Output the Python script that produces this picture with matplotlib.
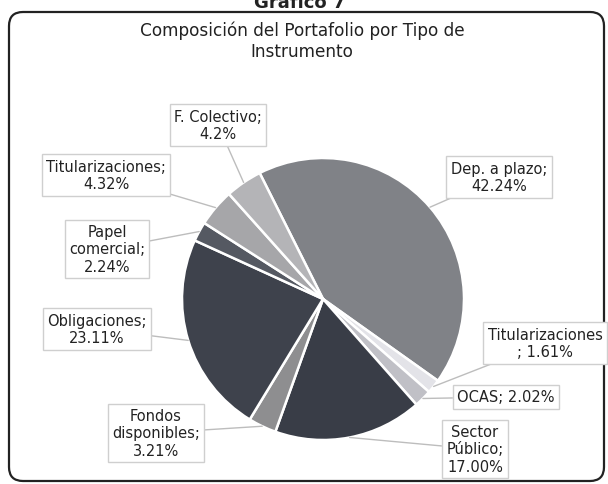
import numpy as np
import matplotlib.pyplot as plt
from matplotlib.patches import FancyBboxPatch

# datos del grafico
categorias = ['Dep. a plazo', 'Titularizaciones\n', 'OCAS', 'Sector\nPúblico',
              'Fondos\ndisponibles', 'Obligaciones', 'Papel\ncomercial',
              'Titularizaciones', 'F. Colectivo']
valores = [42.24, 1.61, 2.02, 17.00, 3.21, 23.11, 2.24, 4.32, 4.2]
etiquetas_valor = ['42.24%', '1.61%', '2.02%', '17.00%', '3.21%', '23.11%', '2.24%', '4.32%', '4.2%']
colores = ['#808287', '#e3e3e8', '#c0c0c6', '#393d47', '#8e8e90',
           '#3e424c', '#555962', '#a6a6a9', '#b4b4b7']

# posiciones de las cajas de texto (pixeles)
pos_cajas = [(499, 178), (545, 344), (506, 398), (475, 450), (156, 434),
             (97, 330), (107, 250), (106, 176), (218, 126)]

W, H = 608, 485
fig = plt.figure(figsize=(W / 100, H / 100), dpi=100)
ax = fig.add_axes([0, 0, 1, 1])

# marco redondeado
marco = FancyBboxPatch((9, 3), 595, 469, boxstyle='round,pad=0,rounding_size=14',
                       fill=False, edgecolor='#222222', linewidth=1.6)
ax.add_patch(marco)

ax.text(300, H - 3, 'Gráfico 7', ha='center', va='center', fontsize=13,
        fontweight='bold', color='#222222')
ax.text(302, H - 41, 'Composición del Portafolio por Tipo de\nInstrumento',
        ha='center', va='center', fontsize=12.2, color='#222222', linespacing=1.25)

centro = (323, H - 300)
radio = 141
inicio = 116.7
wedges, _ = ax.pie(valores, colors=colores, startangle=inicio, counterclock=False,
                   center=centro, radius=radio, frame=True,
                   wedgeprops=dict(edgecolor='white', linewidth=1.8))
ax.set_xlim(0, W)
ax.set_ylim(0, H)
ax.set_aspect('equal')
ax.axis('off')

for w, cat, val, (px, py) in zip(wedges, categorias, etiquetas_valor, pos_cajas):
    ang = np.deg2rad((w.theta1 + w.theta2) / 2)
    x = centro[0] + radio * np.cos(ang)
    y = centro[1] + radio * np.sin(ang)
    if cat == 'Titularizaciones\n':
        texto = 'Titularizaciones\n; ' + val
    elif cat == 'OCAS':
        texto = cat + '; ' + val
    else:
        texto = cat + ';\n' + val
    ax.annotate(texto, xy=(x, y), xytext=(px, H - py), ha='center', va='center',
                fontsize=10.5, color='#222222', linespacing=1.2,
                bbox=dict(boxstyle='square,pad=0.3', fc='white', ec='#cfcfcf', lw=1),
                arrowprops=dict(arrowstyle='-', color='#bdbdbd', lw=1, shrinkA=0, shrinkB=0))

fig.savefig('out.png', dpi=100)
